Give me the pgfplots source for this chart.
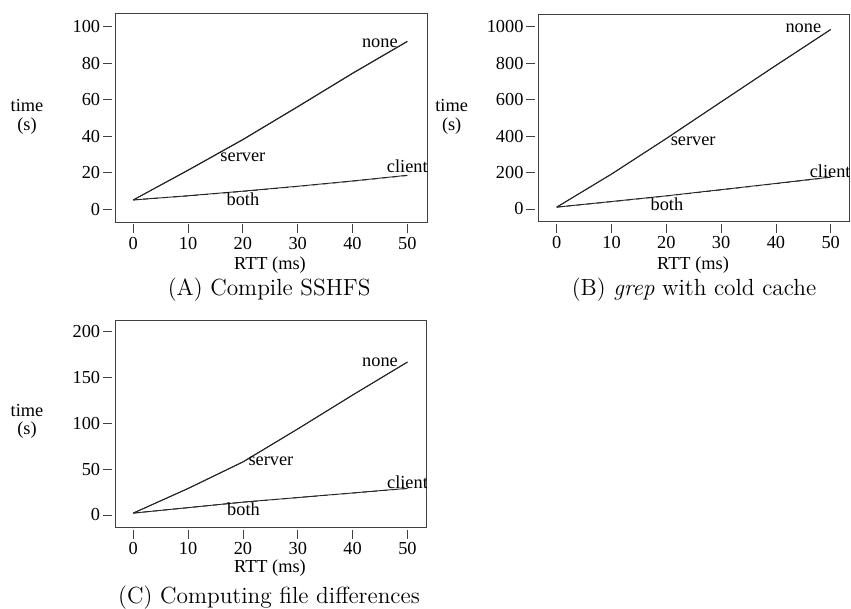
\documentclass[border=0pt]{standalone}
\usepackage{pgfplots}
\pgfplotsset{compat=1.18}
\usepackage{fontspec}
\newfontfamily\tnr{Liberation Serif}
\pgfplotsset{
  rplot/.style={
    scale only axis,
    anchor=north west,
    axis line style={black!75, line width=0.5pt},
    tick pos=left,
    tick align=outside,
    major tick length=5.4pt,
    every tick/.style={black!75, line width=0.5pt},
    xtick style={yshift=-1.2pt},
    ytick style={xshift=-1.8pt},
    tick label style={font=\tnr\fontsize{11}{13}\selectfont},
    /pgf/number format/assume math mode=true,
    /pgf/number format/1000 sep={},
    xtick={0,10,20,30,40,50},
  },
}
\tikzset{
  lbl/.style={font=\tnr\fontsize{11}{13}\selectfont, inner sep=0pt},
  ln/.style={black!85, line width=0.55pt, mark=none},
}
\pgfplotstableread{
x none server client both
0 5 5 5 5
10 21.4 21.2 7.3 7.2
20 38.2 38.0 9.8 9.7
30 56.2 56.0 12.5 12.4
40 74.5 74.3 15.4 15.3
50 92 91.8 18.5 18.4
}\dataA
\pgfplotstableread{
x none server client both
0 10 10 10 10
10 192 191 41 40
20 387 386 72 71
30 588 587 106 105
40 788 787 140 139
50 985 984 175 174
}\dataB
\pgfplotstableread{
x none server client both
0 2 2 2 2
10 29 28.8 8 7.9
20 58 57.8 14 13.9
30 94 93.8 19 18.9
40 131 130.8 24 23.9
50 167 166.8 29 28.9
}\dataC
\begin{document}
\begin{tikzpicture}
\useasboundingbox (0,0) rectangle (510.6pt,-365.4pt);
% Panel A
\begin{axis}[rplot, at={(69pt,-7.8pt)}, width=187.2pt, height=125.4pt,
  xmin=-3.34, xmax=53.6, ymin=-7.1, ymax=107.5, ytick={0,20,40,60,80,100}]
\addplot[ln] table[x=x,y=none]{\dataA};
\addplot[ln] table[x=x,y=server]{\dataA};
\addplot[ln] table[x=x,y=client]{\dataA};
\addplot[ln, dashed] table[x=x,y=both]{\dataA};
\node[lbl] at (axis cs:45,91) {none};
\node[lbl] at (axis cs:20,28.5) {server};
\node[lbl] at (axis cs:50,23.6) {client};
\node[lbl] at (axis cs:20,5.3) {both};
\end{axis}
% Panel B
\begin{axis}[rplot, at={(323pt,-8.4pt)}, width=186.6pt, height=124.6pt,
  xmin=-3.36, xmax=53.4, ymin=-69.7, ymax=1069.7, ytick={0,200,400,600,800,1000}]
\addplot[ln] table[x=x,y=none]{\dataB};
\addplot[ln] table[x=x,y=server]{\dataB};
\addplot[ln] table[x=x,y=client]{\dataB};
\addplot[ln, dashed] table[x=x,y=both]{\dataB};
\node[lbl] at (axis cs:45,991) {none};
\node[lbl] at (axis cs:24.9,369) {server};
\node[lbl] at (axis cs:49.9,205) {client};
\node[lbl] at (axis cs:20.1,27) {both};
\end{axis}
% Panel C
\begin{axis}[rplot, at={(69pt,-192pt)}, width=187pt, height=124.6pt,
  xmin=-3.34, xmax=53.5, ymin=-13.9, ymax=212.8, ytick={0,50,100,150,200}]
\addplot[ln] table[x=x,y=none]{\dataC};
\addplot[ln] table[x=x,y=server]{\dataC};
\addplot[ln] table[x=x,y=client]{\dataC};
\addplot[ln, dashed] table[x=x,y=both]{\dataC};
\node[lbl] at (axis cs:45,167) {none};
\node[lbl] at (axis cs:25.1,59) {server};
\node[lbl] at (axis cs:50,36) {client};
\node[lbl] at (axis cs:20.1,6.2) {both};
\end{axis}
% outer labels
\foreach \p in {(16.2pt,-70.2pt),(271pt,-70.2pt),(16.2pt,-253pt)}{
  \node[align=center, font=\tnr\fontsize{11}{11}\selectfont, inner sep=0pt] at \p {time\\(s)};
}
\foreach \p in {(162pt,-159pt),(415.8pt,-159pt),(162pt,-340.8pt)}{
  \node[lbl] at \p {RTT (ms)};
}
\node[inner sep=0pt, font=\fontsize{14}{16}\selectfont] at (161.5pt,-174pt) {(A) Compile SSHFS};
\node[inner sep=0pt, font=\fontsize{14}{16}\selectfont] at (416.4pt,-174pt) {(B) \textit{grep} with cold cache};
\node[inner sep=0pt, font=\fontsize{14}{16}\selectfont] at (161.4pt,-358.8pt) {(C) Computing file differences};
\end{tikzpicture}
\end{document}
